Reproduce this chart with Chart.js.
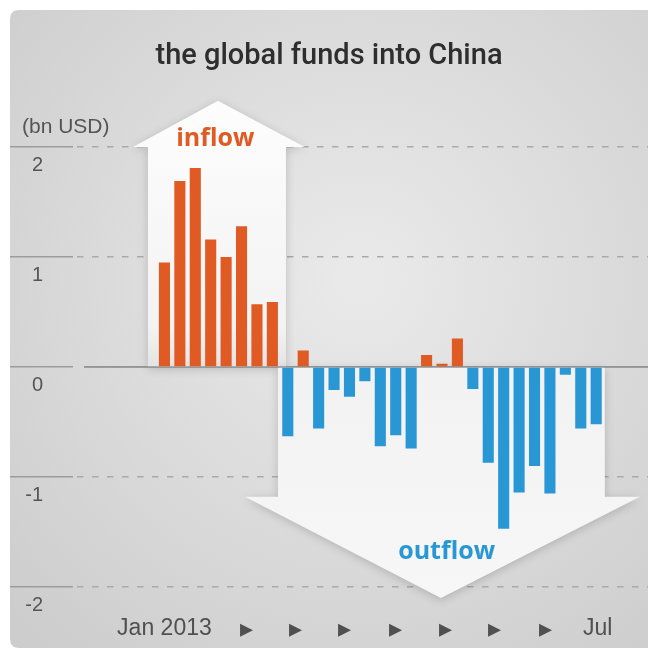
<!DOCTYPE html>
<html>
<head>
<meta charset="utf-8">
<script src="https://cdn.jsdelivr.net/npm/chart.js@4.4.0/dist/chart.umd.min.js"></script>
<style>
html,body{margin:0;padding:0;background:#fff;}
</style>
</head>
<body>
<canvas id="myChart" width="648" height="652"></canvas>
<script>
// weekly net flow of global funds into China, bn USD (week 0 = first week of Jan 2013)
var weeks = [0,1,2,3,4,5,6,7,8,9,10,11,12,13,14,15,16,17,18,19,20,21,22,23,24,25,26,27,28];
var netFlow = [0.95,1.69,1.81,1.16,1.00,1.28,0.57,0.59,-0.63,0.15,-0.56,-0.21,-0.27,-0.13,-0.72,-0.62,-0.74,0.11,0.03,0.26,-0.20,-0.87,-1.47,-1.14,-0.90,-1.15,-0.07,-0.56,-0.52];
var yTicks = [-2,-1,0,1,2];
var xTickWeeks = [0,5.3,8.5,11.7,15,18.2,21.4,24.7,28.1];
var xTickLabels = ['Jan 2013','\u25B8','\u25B8','\u25B8','\u25B8','\u25B8','\u25B8','\u25B8','Jul'];

var ORANGE = '#e05a24';
var BLUE = '#2a97d5';

function roundRect(ctx,x,y,w,h,r){
    ctx.beginPath();
    ctx.moveTo(x+r,y);
    ctx.lineTo(x+w-r,y);
    ctx.quadraticCurveTo(x+w,y,x+w,y+r);
    ctx.lineTo(x+w,y+h-r);
    ctx.quadraticCurveTo(x+w,y+h,x+w-r,y+h);
    ctx.lineTo(x+r,y+h);
    ctx.quadraticCurveTo(x,y+h,x,y+h-r);
    ctx.lineTo(x,y+r);
    ctx.quadraticCurveTo(x,y,x+r,y);
    ctx.closePath();
}

var cardPlugin = {
    id:'card',
    beforeDraw:function(chart){
        var ctx = chart.ctx;
        ctx.save();
        ctx.fillStyle = '#ffffff';
        ctx.fillRect(0,0,chart.width,chart.height);
        var g = ctx.createRadialGradient(360,280,20,360,280,480);
        g.addColorStop(0,'#e9e9e9');
        g.addColorStop(1,'#cdcdcd');
        ctx.fillStyle = g;
        roundRect(ctx,10,10,chart.width+20,chart.height-14,9);
        ctx.fill();
        ctx.restore();
    }
};

// big decorative arrows, described in data units (week, bn USD)
var arrowPlugin = {
    id:'arrows',
    beforeDatasetsDraw:function(chart){
        var ctx = chart.ctx;
        var xs = chart.scales.x, ys = chart.scales.y;
        var X = function(v){return xs.getPixelForValue(v);};
        var Y = function(v){return ys.getPixelForValue(v);};
        ctx.save();
        ctx.shadowColor = 'rgba(0,0,0,0.18)';
        ctx.shadowBlur = 10;
        ctx.shadowOffsetY = 2;

        // up arrow
        var gu = ctx.createLinearGradient(0,Y(2.42),0,Y(0));
        gu.addColorStop(0,'#fdfdfd');
        gu.addColorStop(0.85,'#f3f3f3');
        gu.addColorStop(1,'#e4e4e4');
        ctx.fillStyle = gu;
        ctx.beginPath();
        ctx.moveTo(X(-1.07),Y(0));
        ctx.lineTo(X(-1.07),Y(2.0));
        ctx.lineTo(X(-2.04),Y(2.0));
        ctx.lineTo(X(3.47),Y(2.42));
        ctx.lineTo(X(9.1),Y(2.0));
        ctx.lineTo(X(7.88),Y(2.0));
        ctx.lineTo(X(7.88),Y(0));
        ctx.closePath();
        ctx.fill();

        // down arrow
        var gd = ctx.createLinearGradient(0,Y(0),0,Y(-2.1));
        gd.addColorStop(0,'#f2f2f2');
        gd.addColorStop(1,'#f7f7f7');
        ctx.fillStyle = gd;
        ctx.beginPath();
        ctx.moveTo(X(7.36),Y(0));
        ctx.lineTo(X(28.56),Y(0));
        ctx.lineTo(X(28.56),Y(-1.18));
        ctx.lineTo(X(30.84),Y(-1.18));
        ctx.lineTo(X(17.93),Y(-2.1));
        ctx.lineTo(X(5.22),Y(-1.18));
        ctx.lineTo(X(7.36),Y(-1.18));
        ctx.closePath();
        ctx.fill();
        ctx.restore();

        // zero line over the arrows
        ctx.save();
        ctx.strokeStyle = '#959595';
        ctx.lineWidth = 1.6;
        ctx.beginPath();
        ctx.moveTo(chart.chartArea.left+11,Y(0));
        ctx.lineTo(chart.chartArea.right,Y(0));
        ctx.stroke();

        // labels
        ctx.textAlign = 'center';
        ctx.textBaseline = 'middle';
        ctx.font = 'bold 25px "Open Sans"';
        ctx.fillStyle = ORANGE;
        ctx.fillText('inflow',X(3.3),Y(2.07));
        ctx.fillStyle = BLUE;
        ctx.fillText('outflow',X(18.3),Y(-1.68));

        ctx.textAlign = 'left';
        ctx.fillStyle = '#555555';
        ctx.font = '21px "Liberation Sans"';
        ctx.fillText('(bn USD)',chart.chartArea.left-51,Y(2)-20);
        ctx.restore();
    }
};

var ctx = document.getElementById('myChart');
var chart = new Chart(ctx,{
    type:'bar',
    data:{
        datasets:[{
            label:'net flow',
            data:weeks.map(function(w,i){return {x:w,y:netFlow[i]};}),
            backgroundColor:function(c){return netFlow[c.dataIndex] >= 0 ? ORANGE : BLUE;},
            borderWidth:0,
            barPercentage:0.72,
            categoryPercentage:1
        }]
    },
    plugins:[cardPlugin,arrowPlugin],
    options:{
        responsive:false,
        animation:false,
        devicePixelRatio:1,
        layout:{padding:{left:10,right:0,top:0,bottom:0}},
        plugins:{
            legend:{display:false},
            tooltip:{enabled:false},
            title:{
                display:true,
                text:'the global funds into China',
                color:'#2e2e2e',
                font:{family:'Roboto',size:29,weight:'500',lineHeight:1.2},
                padding:{top:39,bottom:18.2}
            }
        },
        scales:{
            x:{
                type:'linear',
                position:'bottom',
                offset:false,
                min:-5.93,
                max:31.36,
                grid:{display:false},
                border:{display:false},
                afterBuildTicks:function(s){s.ticks = xTickWeeks.map(function(v){return {value:v};});},
                afterFit:function(s){s.height = 48.5;},
                ticks:{
                    autoSkip:false,
                    maxRotation:0,
                    padding:3,
                    color:'#505050',
                    font:function(c){return {family:'Liberation Sans',size:(c.index === 0 || c.index === xTickLabels.length-1) ? 23 : 26};},
                    callback:function(v,i){return xTickLabels[i];}
                }
            },
            y:{
                position:'left',
                min:-2.15,
                max:2.5,
                afterBuildTicks:function(s){s.ticks = yTicks.map(function(v){return {value:v};});},
                afterFit:function(s){s.width = 63;},
                grid:{
                    color:function(c){return c.tick && c.tick.value === 0 ? '#959595' : '#aaaaaa';},
                    lineWidth:function(c){return c.tick && c.tick.value === 0 ? 1.6 : 1.4;},
                    tickLength:63,
                    tickColor:'#9c9c9c',
                    tickWidth:1.6,
                    tickBorderDash:[]
                },
                border:{
                    display:false,
                    dash:function(c){return c.tick && c.tick.value === 0 ? [2000,11] : [6.5,8.5];},
                    dashOffset:function(c){return c.tick && c.tick.value === 0 ? 2000 : 11;}
                },
                ticks:{
                    padding:-33,
                    labelOffset:18,
                    crossAlign:'near',
                    color:'#555555',
                    font:{family:'Liberation Sans',size:20},
                    callback:function(v){return String(v);}
                }
            }
        }
    }
});
</script>
</body>
</html>
